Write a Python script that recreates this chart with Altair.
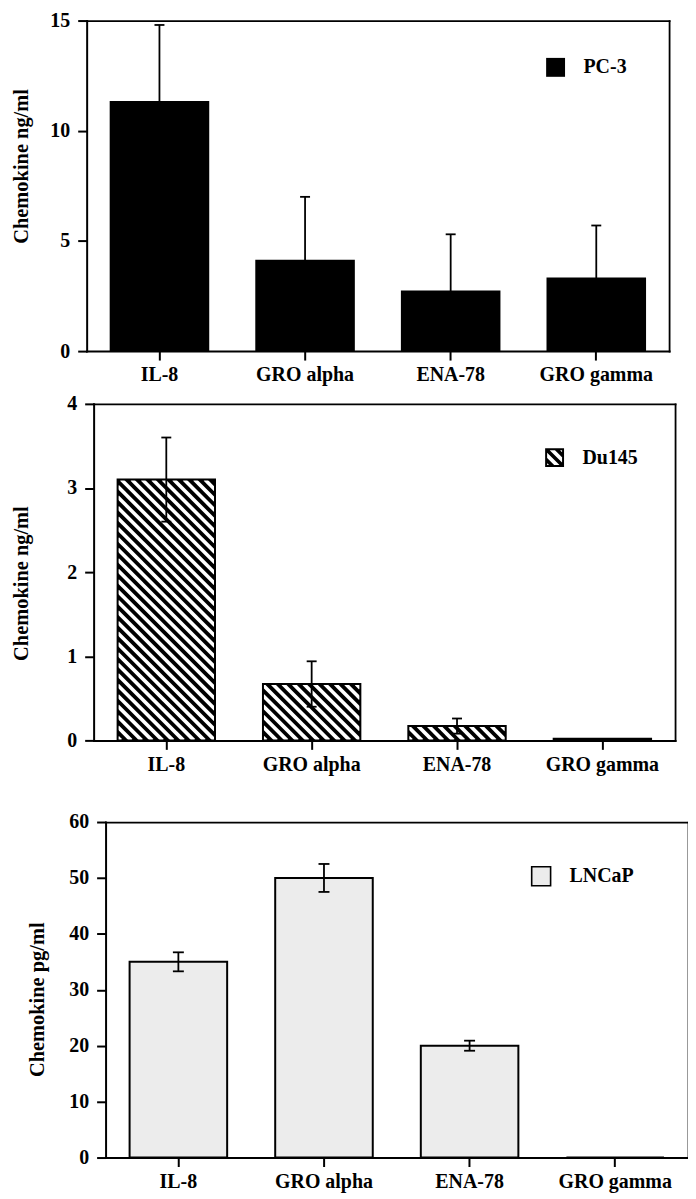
import altair as alt
import numpy as np
import pandas as pd

# ---------------- data ----------------
categories = ["IL-8", "GRO alpha", "ENA-78", "GRO gamma"]

pc3_mean = [11.3, 4.1, 2.7, 3.3]
pc3_err = [3.5, 2.9, 2.6, 2.4]

du145_mean = [3.1, 0.67, 0.17, 0.02]
du145_err = [0.5, 0.27, 0.09, 0.0]

lncap_mean = [35.0, 50.0, 20.0, 0.0]
lncap_err = [1.7, 2.5, 0.9, 0.0]

# ---------------- style ----------------
FONT = "Liberation Serif"
PAD_IN = 0.33
PAD_OUT = PAD_IN / 2
N = len(categories)


def hatch_table(means, ymax, H, r0, r1, period=10.5):
    """White diagonal gaps drawn over black bars (45 degrees in pixel space)."""
    step = (r1 - r0) / N
    rows = []
    for i, v in enumerate(means):
        if v <= 0:
            continue
        L = r0 + step * (i + PAD_OUT)
        R = L + step * (1 - PAD_IN)
        T = H - v / ymax * H
        B = H
        k = L - B + period * 0.3
        while k < R - T:
            x0 = max(L, T + k)
            x1 = min(R, B + k)
            if x1 > x0:
                rows.append({
                    "u0": (x0 - r0) / step, "u1": (x1 - r0) / step,
                    "v0": (H - (x0 - k)) / H * ymax, "v1": (H - (x1 - k)) / H * ymax,
                })
            k += period
    return pd.DataFrame(rows)


def clip(poly, f):
    out = []
    n = len(poly)
    for j in range(n):
        a = poly[j]
        b = poly[(j + 1) % n]
        fa, fb = f(a), f(b)
        if fa >= 0:
            out.append(a)
        if (fa >= 0) != (fb >= 0):
            t = fa / (fa - fb)
            out.append((a[0] + t * (b[0] - a[0]), a[1] + t * (b[1] - a[1])))
    return out


def hatch_symbol(period=1.1, half=0.27, border=0.21):
    sq = [(-1, -1), (1, -1), (1, 1), (-1, 1)]
    a = 1 - border
    parts = ["M-1,-1L1,-1L1,1L-1,1Z", f"M{-a:.3f},{-a:.3f}L{-a:.3f},{a:.3f}L{a:.3f},{a:.3f}L{a:.3f},{-a:.3f}Z"]
    for k in (-period, 0.0, period):
        poly = clip(sq, lambda p, k=k: (p[1] - p[0]) - (k - half))
        poly = clip(poly, lambda p, k=k: (k + half) - (p[1] - p[0]))
        if len(poly) >= 3:
            parts.append("M" + "L".join(f"{x:.3f},{y:.3f}" for x, y in poly) + "Z")
    return "".join(parts)


def panel(series, means, errs, ymax, yvals, ytitle, H, shift, pw, color,
          sym, sym_stroke_w, leg_x, leg_y, title_x, title_y, cap, hatch):
    r0, r1 = shift, shift + pw
    df = pd.DataFrame({"cat": categories, "mean": means, "err": errs})
    df["series"] = series
    df["lo"] = df["mean"] - df["err"]
    df["hi"] = df["mean"] + df["err"]
    df["pos"] = np.arange(N) + 0.5

    xscale = alt.Scale(domain=categories, range=[r0, r1],
                       paddingInner=PAD_IN, paddingOuter=PAD_OUT)
    yscale = alt.Scale(domain=[0, ymax], nice=False, zero=True)
    xax = alt.Axis(title=None, orient="bottom", labelAngle=0, labelPadding=5,
                   tickSize=9, zindex=1, domainCap="square")
    yax = alt.Axis(title=ytitle, orient="left", values=yvals, offset=-shift,
                   titleX=title_x, titleY=title_y, labelPadding=8, tickSize=9,
                   zindex=1, domainCap="square")
    base = alt.Chart(df)

    bars = base.mark_bar(strokeWidth=0).encode(
        x=alt.X("cat:N", sort=categories, scale=xscale, axis=xax),
        y=alt.Y("mean:Q", scale=yscale, axis=yax),
        fill=alt.Fill("series:N", scale=alt.Scale(domain=[series], range=[color]),
                      legend=alt.Legend(title=None, orient="none", legendX=leg_x, legendY=leg_y,
                                        symbolType=sym, symbolSize=361,
                                        symbolStrokeColor="black", symbolStrokeWidth=sym_stroke_w,
                                        symbolOpacity=1, labelFont=FONT, labelFontSize=20,
                                        labelFontWeight="bold", labelColor="black",
                                        labelOffset=18, padding=0)),
    )

    qx = alt.Scale(domain=[0, N], range=[r0, r1], nice=False, zero=False)
    qy = alt.Scale(domain=[0, ymax], nice=False, zero=True)
    frame_x = alt.Axis(orient="top", title=None, labels=False, ticks=False, grid=False,
                       domainWidth=1.8, domainColor="black", zindex=1, domainCap="square",
                       minExtent=0, maxExtent=0)
    frame_y = alt.Axis(orient="right", title=None, labels=False, ticks=False, grid=False,
                       domainWidth=1.8, domainColor="black", zindex=1, domainCap="square",
                       minExtent=0, maxExtent=0)
    frame = base.mark_point(opacity=0).encode(
        x=alt.X("pos:Q", scale=qx, axis=frame_x),
        y=alt.Y("mean:Q", scale=qy, axis=frame_y),
    )
    qlayers = [frame]
    if hatch:
        hdf = hatch_table(means, ymax, H, r0, r1)
        qlayers.append(
            alt.Chart(hdf).mark_rule(color="white", strokeWidth=3.6, strokeCap="butt").encode(
                x=alt.X("u0:Q", scale=qx, axis=frame_x), x2="u1:Q",
                y=alt.Y("v0:Q", scale=qy, axis=frame_y), y2="v1:Q",
            )
        )
    qgroup = alt.layer(*qlayers)

    xb = alt.X("cat:N", sort=categories, scale=xscale, axis=None)
    outline = base.mark_bar(fillOpacity=0, stroke="black", strokeWidth=2).encode(
        x=xb, y=alt.Y("mean:Q", scale=yscale, axis=None))
    eb = base.transform_filter("datum.err > 0")
    rule = eb.mark_rule(color="black", strokeWidth=1.8).encode(
        x=xb, y=alt.Y("lo:Q", scale=yscale, axis=None), y2="hi:Q")
    tick_hi = eb.mark_tick(color="black", size=cap, thickness=1.8, opacity=1).encode(
        x=xb, y=alt.Y("hi:Q", scale=yscale, axis=None))
    tick_lo = eb.mark_tick(color="black", size=cap, thickness=1.8, opacity=1).encode(
        x=xb, y=alt.Y("lo:Q", scale=yscale, axis=None))
    top = alt.layer(outline, rule, tick_hi, tick_lo)

    return alt.layer(bars, qgroup, top).resolve_scale(
        x="independent", y="independent").properties(width=r1, height=H)


p1 = panel("PC-3", pc3_mean, pc3_err, 15, [0, 5, 10, 15], "Chemokine ng/ml",
           332, 0, 585, "black", "square", 0, 461, 37, -55, 146, 10, False)
p2 = panel("Du145", du145_mean, du145_err, 4, [0, 1, 2, 3, 4], "Chemokine ng/ml",
           338, 7, 584, "black", hatch_symbol(), 0, 460, 44, -62, 180, 10, True)
p3 = panel("LNCaP", lncap_mean, lncap_err, 60, [0, 10, 20, 30, 40, 50, 60], "Chemokine pg/ml",
           337, 19, 585, "#ececec", "square", 1.6, 446, 44, -58, 178, 11, False)

upper = alt.vconcat(p1, p2, spacing=9).resolve_scale(fill="independent").resolve_legend(fill="independent")
chart = alt.vconcat(upper, p3, spacing=38).resolve_scale(
    fill="independent").resolve_legend(fill="independent").properties(
    padding={"left": 3, "top": 0, "right": 0, "bottom": 0}
).configure_view(stroke=None).configure_axis(
    labelFont=FONT, titleFont=FONT, labelFontSize=20, titleFontSize=20.5,
    labelFontWeight="bold", titleFontWeight="bold", labelColor="black",
    titleColor="black", domainColor="black", tickColor="black",
    domainWidth=2, tickWidth=2, grid=False,
)

chart.save("out.html", embed_options={"renderer": "svg", "actions": False})
